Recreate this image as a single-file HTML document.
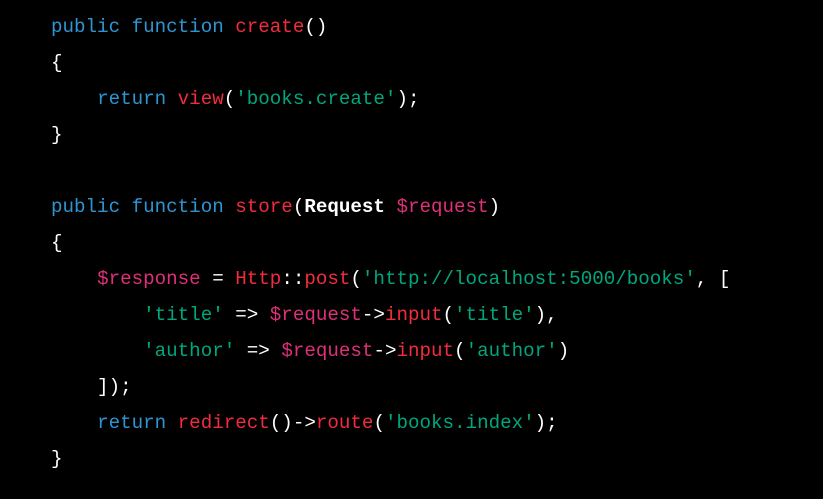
<!DOCTYPE html>
<html><head><style>
html,body{margin:0;padding:0;background:#000;width:823px;height:499px;overflow:hidden}
pre{margin:0;position:absolute;left:51px;top:9px;font-family:"Liberation Mono",monospace;font-size:19.2px;line-height:36px;color:#fff}
.k{color:#2e95d3}.f{color:#f22c3d}.v{color:#df3079}.s{color:#00a67d}.b{font-weight:bold}
</style></head><body>
<pre><span class="k">public</span> <span class="k">function</span> <span class="f">create</span>()
{
    <span class="k">return</span> <span class="f">view</span>(<span class="s">'books.create'</span>);
}

<span class="k">public</span> <span class="k">function</span> <span class="f">store</span>(<span class="b">Request</span> <span class="v">$request</span>)
{
    <span class="v">$response</span> = <span class="f">Http</span>::<span class="f">post</span>(<span class="s">'http://localhost:5000/books'</span>, [
        <span class="s">'title'</span> =&gt; <span class="v">$request</span>-&gt;<span class="f">input</span>(<span class="s">'title'</span>),
        <span class="s">'author'</span> =&gt; <span class="v">$request</span>-&gt;<span class="f">input</span>(<span class="s">'author'</span>)
    ]);
    <span class="k">return</span> <span class="f">redirect</span>()-&gt;<span class="f">route</span>(<span class="s">'books.index'</span>);
}</pre>
</body></html>
